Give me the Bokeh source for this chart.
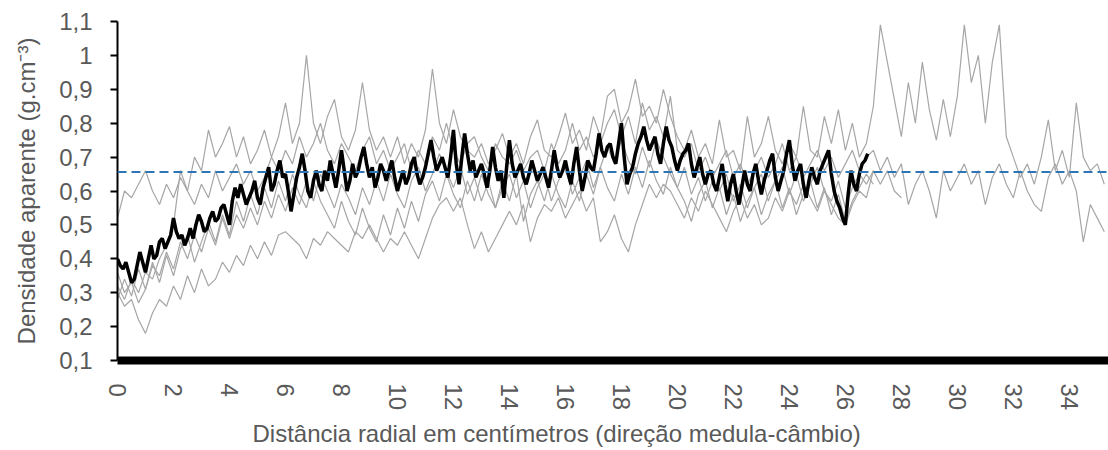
from bokeh.plotting import figure
from bokeh.models import FixedTicker, CustomJSTickFormatter, Span, Title, Range1d
from bokeh.embed import file_html
from bokeh.resources import INLINE

# ---- data (g/cm3), gray = individual profiles sampled every 0.25 cm, black = mean every 0.1 cm
gray_step = 0.25
mean_step = 0.1
mean_density = 0.656

profile_1 = [0.52, 0.60, 0.58, 0.62, 0.66, 0.60, 0.56, 0.62, 0.58, 0.64, 0.60, 0.70,
             0.66, 0.78, 0.70, 0.74, 0.79, 0.70, 0.76, 0.68, 0.72, 0.78, 0.70, 0.76,
             0.86, 0.74, 0.80, 1.00, 0.80, 0.74, 0.82, 0.87, 0.76, 0.72, 0.78, 0.92,
             0.78, 0.72, 0.76, 0.70, 0.76, 0.68, 0.74, 0.70, 0.78, 0.96, 0.80, 0.74,
             0.84, 0.76, 0.72, 0.70, 0.74, 0.68, 0.72, 0.77, 0.70, 0.74, 0.68, 0.76,
             0.81, 0.72, 0.70, 0.76, 0.83, 0.74, 0.78, 0.72, 0.82, 0.76, 0.88, 0.90,
             0.80, 0.84, 0.93, 0.82, 0.85, 0.80, 0.90, 0.82, 0.76, 0.72, 0.78, 0.70,
             0.74, 0.68, 0.81, 0.70, 0.72, 0.66, 0.82, 0.70, 0.74, 0.82, 0.72, 0.68,
             0.74, 0.70, 0.85, 0.72, 0.70, 0.82, 0.74, 0.84, 0.72, 0.80, 0.70, 0.74,
             0.85, 1.09, 0.98, 0.87, 0.76, 0.92, 0.80, 0.98, 0.84, 0.75, 0.87, 0.76,
             0.88, 1.09, 0.92, 1.00, 0.80, 0.98, 1.09, 0.76, 0.70, 0.64, 0.68, 0.62,
             0.70, 0.81, 0.66, 0.72, 0.64, 0.86, 0.70, 0.66, 0.68, 0.62]

profile_2 = [0.32, 0.28, 0.34, 0.30, 0.36, 0.34, 0.40, 0.44, 0.50, 0.66, 0.60, 0.56,
             0.62, 0.58, 0.66, 0.60, 0.64, 0.68, 0.62, 0.66, 0.60, 0.64, 0.70, 0.66,
             0.72, 0.68, 0.76, 0.70, 0.74, 0.80, 0.72, 0.68, 0.74, 0.70, 0.66, 0.72,
             0.76, 0.68, 0.72, 0.66, 0.70, 0.74, 0.66, 0.72, 0.68, 0.76, 0.72, 0.80,
             0.72, 0.68, 0.74, 0.76, 0.70, 0.66, 0.74, 0.70, 0.68, 0.72, 0.66, 0.70,
             0.72, 0.66, 0.74, 0.68, 0.72, 0.80, 0.72, 0.76, 0.70, 0.74, 0.80, 0.84,
             0.76, 0.82, 0.74, 0.86, 0.78, 0.82, 0.76, 0.88, 0.72, 0.70, 0.74, 0.66,
             0.70, 0.64, 0.68, 0.72, 0.64, 0.68, 0.62, 0.66, 0.70, 0.64, 0.68, 0.74,
             0.66, 0.70, 0.64, 0.68, 0.72, 0.66, 0.70, 0.64, 0.68, 0.72, 0.66, 0.70,
             0.72, 0.66, 0.70, 0.64, 0.68, 0.56, 0.62, 0.66, 0.60, 0.52, 0.66, 0.60,
             0.64, 0.68, 0.62, 0.66, 0.56, 0.64, 0.68, 0.62, 0.58, 0.66, 0.60, 0.56,
             0.54, 0.64, 0.68, 0.62, 0.66, 0.60, 0.45, 0.56, 0.52, 0.48]

profile_3 = [0.30, 0.26, 0.28, 0.22, 0.18, 0.24, 0.28, 0.26, 0.32, 0.28, 0.35, 0.30,
             0.37, 0.32, 0.34, 0.39, 0.36, 0.41, 0.38, 0.44, 0.40, 0.45, 0.41, 0.47,
             0.48, 0.46, 0.44, 0.40, 0.46, 0.44, 0.48, 0.46, 0.44, 0.42, 0.48, 0.46,
             0.50, 0.46, 0.42, 0.46, 0.44, 0.48, 0.44, 0.40, 0.46, 0.52, 0.56, 0.58,
             0.54, 0.58, 0.50, 0.43, 0.48, 0.42, 0.46, 0.50, 0.54, 0.50, 0.56, 0.45,
             0.52, 0.56, 0.54, 0.58, 0.52, 0.56, 0.60, 0.54, 0.58, 0.45, 0.48, 0.53,
             0.46, 0.42, 0.50, 0.56, 0.62, 0.58, 0.62, 0.60, 0.56, 0.52, 0.58, 0.54,
             0.60, 0.56, 0.52, 0.48, 0.54, 0.58, 0.52, 0.56, 0.50, 0.52, 0.58, 0.54,
             0.60, 0.56, 0.62, 0.58, 0.54, 0.60, 0.56, 0.52, 0.50, 0.56, 0.60, 0.58,
             0.66, 0.62, 0.66, 0.60, 0.58]

profile_4 = [0.36, 0.30, 0.33, 0.27, 0.31, 0.38, 0.35, 0.42, 0.37, 0.45, 0.40, 0.47,
             0.42, 0.49, 0.44, 0.52, 0.46, 0.53, 0.49, 0.55, 0.50, 0.57, 0.52, 0.59,
             0.54, 0.61, 0.56, 0.63, 0.57, 0.65, 0.60, 0.55, 0.62, 0.58, 0.53, 0.61,
             0.56, 0.63, 0.57, 0.65, 0.59, 0.55, 0.63, 0.67, 0.60, 0.65, 0.71, 0.66,
             0.61, 0.67, 0.59, 0.64, 0.57, 0.63, 0.55, 0.61, 0.65, 0.58, 0.63, 0.55,
             0.61, 0.65, 0.57, 0.63, 0.67, 0.59, 0.64, 0.69, 0.61, 0.67, 0.73, 0.68,
             0.75, 0.69, 0.65, 0.73, 0.67, 0.75, 0.70, 0.65, 0.61, 0.67, 0.59, 0.64,
             0.57, 0.63, 0.60, 0.65, 0.57, 0.62, 0.55, 0.61, 0.65, 0.57, 0.63, 0.67,
             0.59, 0.65, 0.57, 0.62, 0.67, 0.60, 0.57, 0.63, 0.55, 0.61, 0.65, 0.62,
             0.66]

profile_5 = [0.28, 0.34, 0.29, 0.37, 0.31, 0.39, 0.33, 0.41, 0.35, 0.43, 0.47, 0.39,
             0.45, 0.51, 0.45, 0.53, 0.47, 0.57, 0.51, 0.59, 0.53, 0.61, 0.55, 0.63,
             0.57, 0.65, 0.59, 0.55, 0.63, 0.57, 0.53, 0.49, 0.57, 0.51, 0.47, 0.55,
             0.49, 0.45, 0.53, 0.47, 0.55, 0.49, 0.57, 0.51, 0.59, 0.63, 0.57, 0.65,
             0.59, 0.55, 0.63, 0.57, 0.65, 0.59, 0.55, 0.63, 0.57, 0.65, 0.51, 0.59,
             0.63, 0.57, 0.65, 0.59, 0.55, 0.63, 0.57, 0.65, 0.59, 0.67, 0.61, 0.57,
             0.65, 0.59, 0.67, 0.61, 0.69, 0.63, 0.59, 0.67, 0.61, 0.57, 0.51, 0.59,
             0.63, 0.55, 0.61, 0.53, 0.59, 0.51, 0.57, 0.61, 0.53, 0.59, 0.63, 0.55,
             0.61, 0.53, 0.59, 0.63, 0.55, 0.61, 0.53, 0.59, 0.51, 0.57, 0.61, 0.65,
             0.62]

mean_profile = [0.40, 0.38, 0.37, 0.39, 0.36, 0.33, 0.34, 0.38, 0.42, 0.39,
                0.36, 0.40, 0.44, 0.40, 0.41, 0.45, 0.46, 0.43, 0.45, 0.47,
                0.52, 0.48, 0.46, 0.47, 0.44, 0.46, 0.49, 0.46, 0.50, 0.53,
                0.51, 0.48, 0.49, 0.52, 0.54, 0.51, 0.52, 0.55, 0.56, 0.53,
                0.50, 0.57, 0.61, 0.58, 0.62, 0.59, 0.56, 0.58, 0.60, 0.63,
                0.58, 0.56, 0.61, 0.64, 0.67, 0.60, 0.62, 0.66, 0.69, 0.64,
                0.65, 0.60, 0.54, 0.59, 0.64, 0.67, 0.71, 0.66, 0.60, 0.58,
                0.63, 0.66, 0.62, 0.60, 0.66, 0.63, 0.69, 0.65, 0.61, 0.66,
                0.72, 0.66, 0.60, 0.63, 0.68, 0.64, 0.66, 0.70, 0.73, 0.68,
                0.64, 0.67, 0.61, 0.64, 0.68, 0.66, 0.63, 0.66, 0.69, 0.64,
                0.60, 0.63, 0.66, 0.62, 0.64, 0.68, 0.70, 0.65, 0.62, 0.64,
                0.67, 0.71, 0.75, 0.70, 0.66, 0.68, 0.70, 0.67, 0.64, 0.70,
                0.78, 0.68, 0.62, 0.70, 0.77, 0.71, 0.66, 0.69, 0.64, 0.66,
                0.68, 0.65, 0.61, 0.66, 0.73, 0.67, 0.63, 0.66, 0.58, 0.67,
                0.75, 0.68, 0.64, 0.66, 0.68, 0.64, 0.62, 0.65, 0.69, 0.66,
                0.63, 0.65, 0.67, 0.64, 0.61, 0.66, 0.72, 0.67, 0.64, 0.66,
                0.69, 0.65, 0.62, 0.68, 0.73, 0.66, 0.60, 0.64, 0.69, 0.67,
                0.66, 0.71, 0.77, 0.72, 0.70, 0.73, 0.74, 0.70, 0.68, 0.74,
                0.80, 0.70, 0.62, 0.65, 0.67, 0.71, 0.74, 0.76, 0.79, 0.75,
                0.72, 0.74, 0.76, 0.71, 0.68, 0.74, 0.79, 0.75, 0.73, 0.69,
                0.66, 0.69, 0.71, 0.72, 0.74, 0.68, 0.64, 0.67, 0.70, 0.65,
                0.62, 0.65, 0.66, 0.62, 0.60, 0.64, 0.68, 0.62, 0.57, 0.62,
                0.65, 0.60, 0.56, 0.61, 0.66, 0.62, 0.60, 0.65, 0.68, 0.63,
                0.59, 0.63, 0.66, 0.69, 0.71, 0.64, 0.60, 0.63, 0.66, 0.71,
                0.75, 0.68, 0.63, 0.66, 0.68, 0.62, 0.58, 0.63, 0.67, 0.64,
                0.62, 0.66, 0.68, 0.70, 0.72, 0.65, 0.60, 0.57, 0.55, 0.52,
                0.50, 0.59, 0.66, 0.62, 0.60, 0.65, 0.68, 0.69, 0.71]

x_ticks = list(range(0, 35, 2))
y_ticks = [0.1, 0.2, 0.3, 0.4, 0.5, 0.6, 0.7, 0.8, 0.9, 1.0, 1.1]
x_title = "Distância radial em centímetros (direção medula-câmbio)"
y_title = "Densidade aparente (g.cm\u207b\u00b3)"

FONT = "Liberation Sans"
TXT = "#595959"

p = figure(width=1108, height=450, output_backend="svg", toolbar_location=None,
           x_range=Range1d(0, 35.4), y_range=Range1d(0.1, 1.1),
           min_border_left=117, min_border_right=0, min_border_top=21, min_border_bottom=87)
p.outline_line_color = None
p.grid.visible = False
p.background_fill_color = "white"

for prof in [profile_1, profile_2, profile_3, profile_4, profile_5]:
    xs = [i * gray_step for i in range(len(prof))]
    p.line(xs, prof, line_color="#A6A6A6", line_width=1.2)

mx = [i * mean_step for i in range(len(mean_profile))]
p.line(mx, mean_profile, line_color="black", line_width=3.5)

p.add_layout(Span(location=mean_density, dimension="width", line_color="#2E75B6",
                  line_width=2, line_dash="9 5"))

# y axis
ya = p.yaxis[0]
ya.ticker = FixedTicker(ticks=y_ticks)
ya.formatter = CustomJSTickFormatter(code="var s=(Math.round(tick*10)/10).toString(); return s.replace('.', ',');")
ya.axis_line_color = "black"
ya.axis_line_width = 2
ya.major_tick_line_color = "black"
ya.major_tick_line_width = 2
ya.major_tick_out = 7
ya.major_tick_in = 0
ya.minor_tick_out = 0
ya.minor_tick_in = 0
ya.major_label_text_font = FONT
ya.major_label_text_font_size = "24px"
ya.major_label_text_color = TXT
ya.major_label_standoff = 18
ya.axis_label = y_title
ya.axis_label_text_font = FONT
ya.axis_label_text_font_size = "24px"
ya.axis_label_text_font_style = "normal"
ya.axis_label_text_color = TXT
ya.axis_label_standoff = 16

# x axis
xa = p.xaxis[0]
xa.ticker = FixedTicker(ticks=x_ticks)
xa.axis_line_color = "black"
xa.axis_line_width = 8
xa.major_tick_out = 0
xa.major_tick_in = 0
xa.minor_tick_out = 0
xa.minor_tick_in = 0
xa.major_label_orientation = "vertical"
xa.major_label_text_font = FONT
xa.major_label_text_font_size = "24px"
xa.major_label_text_color = TXT
xa.major_label_standoff = 23

t = Title(text=x_title, align="left", offset=135, text_font=FONT, text_font_size="24px",
          text_font_style="normal", text_color=TXT, standoff=8)
p.add_layout(t, "below")

open("out.html", "w").write(file_html(p, INLINE))
